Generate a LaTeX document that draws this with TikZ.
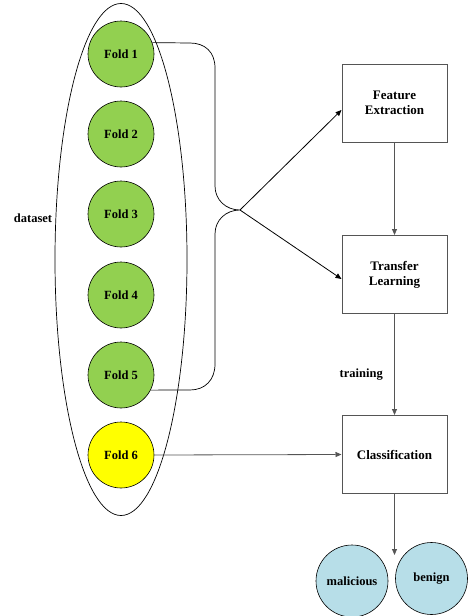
\documentclass[tikz,border=0pt]{standalone}
\usepackage{fontspec}
\setmainfont{Liberation Serif}
\usetikzlibrary{arrows.meta}
\definecolor{foldgreen}{HTML}{92D050}
\definecolor{foldyellow}{HTML}{FFFF00}
\definecolor{outblue}{HTML}{B7DEE8}
\definecolor{boxgray}{HTML}{555555}
\begin{document}
\begin{tikzpicture}[x=1pt,y=-1pt,
  fold/.style={circle,draw=black,line width=0.6pt,minimum size=66pt,inner sep=0pt,font=\bfseries\fontsize{12.5}{13}\selectfont},
  stage/.style={rectangle,draw=boxgray,line width=1pt,minimum width=105pt,minimum height=78pt,align=center,font=\bfseries\fontsize{13}{15}\selectfont},
  outc/.style={circle,draw=black,line width=0.6pt,fill=outblue,minimum size=72pt,inner sep=0pt,font=\bfseries\fontsize{12.5}{13}\selectfont},
  arr/.style={-{Triangle[length=6pt,width=5pt]},line width=0.8pt},
  lbl/.style={font=\bfseries\fontsize{12.5}{13}\selectfont}]
\useasboundingbox (0,0) rectangle (468,616);
% dataset ellipse
\draw[line width=0.7pt] (121,259.5) ellipse [x radius=66, y radius=256];
\node[lbl] (ds) at (33,218) {dataset};
% folds
\node[fold,fill=foldgreen] (f1) at (121,54) {Fold 1};
\node[fold,fill=foldgreen] (f2) at (121,134) {Fold 2};
\node[fold,fill=foldgreen] (f3) at (121,214) {Fold 3};
\node[fold,fill=foldgreen] (f4) at (121,295) {Fold 4};
\node[fold,fill=foldgreen] (f5) at (121,375) {Fold 5};
\node[fold,fill=foldyellow] (f6) at (121,455) {Fold 6};
% stages
\node[stage] (fe) at (394.5,103) {Feature\\Extraction};
\node[stage] (tl) at (394.5,274.5) {Transfer\\Learning};
\node[stage] (cl) at (394.5,454.5) {Classification};
% outputs
\node[outc] (mal) at (352,581) {malicious};
\node[outc] (ben) at (431.5,578.5) {benign};
% brace
\coordinate (tip) at (240,210);
\draw[line width=0.7pt] (f1.20) -- (190,43) .. controls (205,43) and (215,52) .. (215,68)
  -- (215,186) .. controls (215,200) and (226,210) .. (tip)
  .. controls (226,210) and (215,220) .. (215,234)
  -- (215,364) .. controls (215,380) and (205,390) .. (190,390) -- (f5.-27);
\draw[arr] (tip) -- (fe.west |- 0,110);
\draw[arr] (tip) -- (tl.west |- 0,279);
% flow
\draw[arr,draw=boxgray] (fe.south) -- (tl.north);
\draw[arr,draw=boxgray] (tl.south) -- node[lbl,left=8pt,pos=0.6] (tr) {training} (cl.north);
\draw[arr,draw=boxgray] (f6.east) -- (cl.west);
\coordinate (outend) at (394.5,555);
\draw[arr,draw=boxgray] (cl.south) -- (outend);
\end{tikzpicture}
\end{document}
